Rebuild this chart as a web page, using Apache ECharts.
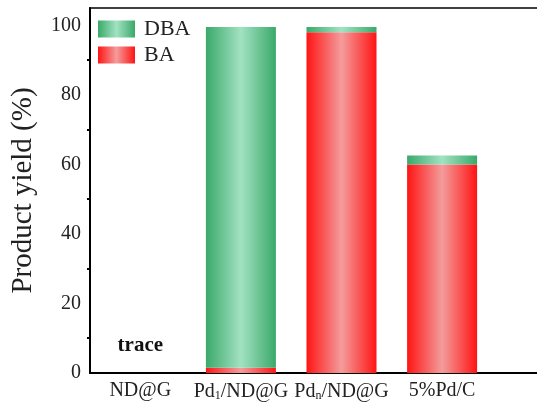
<!DOCTYPE html>
<html>
<head>
<meta charset="utf-8">
<script src="https://cdn.jsdelivr.net/npm/echarts@6/dist/echarts.min.js"></script>
<style>
  html, body { margin: 0; padding: 0; background: #fff; overflow: hidden; }
  /* chart is wider than the window: the axis runs on past the right edge */
  #chart { width: 594px; height: 404px; }
</style>
</head>
<body>
<div id="chart"></div>
<script>
// categories (last slot is empty, it lies past the right edge)
const categories = ['ND@G', 'Pd1/ND@G', 'Pdn/ND@G', '5%Pd/C', '']
const baValues = [0, 1.5, 98, 60, null]
const dbaValues = [0, 98, 1.5, 2.6, null]
const yTicks = [0, 20, 40, 60, 80, 100]

const font = 'Liberation Serif'

function hGrad(edge, mid) {
  return new echarts.graphic.LinearGradient(0, 0, 1, 0, [
    { offset: 0, color: edge },
    { offset: 0.5, color: mid },
    { offset: 1, color: edge }
  ])
}

const chart = echarts.init(document.getElementById('chart'), null, { renderer: 'canvas' })

const option = {
  backgroundColor: '#fff',
  animation: false,
  grid: {
    left: 90,
    right: 1,
    top: 8,
    bottom: 31,
    show: true,
    borderColor: '#000',
    borderWidth: 1.5
  },
  legend: {
    data: ['DBA', 'BA'],
    orient: 'vertical',
    left: 93,
    top: 13,
    icon: 'rect',
    itemWidth: 37,
    itemHeight: 17,
    itemGap: 4,
    textStyle: { fontFamily: font, fontSize: 22, color: '#222', padding: [0, 0, 0, 4] }
  },
  xAxis: [{
    type: 'category',
    data: categories,
    axisLine: { lineStyle: { color: '#000', width: 2 } },
    axisTick: { alignWithLabel: true, length: 6, lineStyle: { color: '#000', width: 2 } },
    axisLabel: {
      interval: 0,
      margin: 8,
      fontFamily: font,
      fontSize: 20,
      color: '#222',
      formatter(v) {
        if (v === 'Pd1/ND@G') return 'Pd{s|1}/ND@G'
        if (v === 'Pdn/ND@G') return 'Pd{s|n}/ND@G'
        return v
      },
      rich: {
        s: { fontFamily: font, fontSize: 12, color: '#222', verticalAlign: 'bottom', padding: [9, 0, 0, 0] }
      }
    }
  }, {
    // short ticks between categories
    type: 'category',
    data: categories,
    position: 'bottom',
    axisLine: { show: false },
    axisTick: { length: 3, lineStyle: { color: '#000', width: 2 } },
    axisLabel: { show: false }
  }],
  yAxis: {
    type: 'value',
    min: 0,
    max: 105,
    interval: 20,
    name: 'Product yield (%)',
    nameLocation: 'middle',
    nameGap: 52,
    nameTextStyle: { fontFamily: font, fontSize: 29, color: '#222' },
    axisLine: { show: true, lineStyle: { color: '#000', width: 2 } },
    axisTick: { length: 6, lineStyle: { color: '#000', width: 2 } },
    minorTick: { show: true, splitNumber: 2, length: 3, lineStyle: { color: '#000', width: 2 } },
    splitLine: { show: false },
    axisLabel: {
      fontFamily: font,
      fontSize: 20,
      color: '#222',
      margin: 9,
      formatter(v) { return yTicks.includes(v) ? String(v) : '' }
    }
  },
  series: [{
    name: 'BA',
    type: 'bar',
    stack: 'yield',
    barWidth: 70,
    itemStyle: { color: hGrad('#ff1414', '#f49c9c') },
    data: baValues.map((v, i) => i === 0 ? {
      value: v,
      label: {
        show: true,
        position: 'top',
        distance: 17,
        formatter: 'trace',
        fontFamily: font,
        fontWeight: 'bold',
        fontSize: 21,
        color: '#111'
      }
    } : v)
  }, {
    name: 'DBA',
    type: 'bar',
    stack: 'yield',
    barWidth: 70,
    itemStyle: { color: hGrad('#3aa96a', '#a2e2c2') },
    data: dbaValues
  }]
}

chart.setOption(option)
</script>
</body>
</html>
